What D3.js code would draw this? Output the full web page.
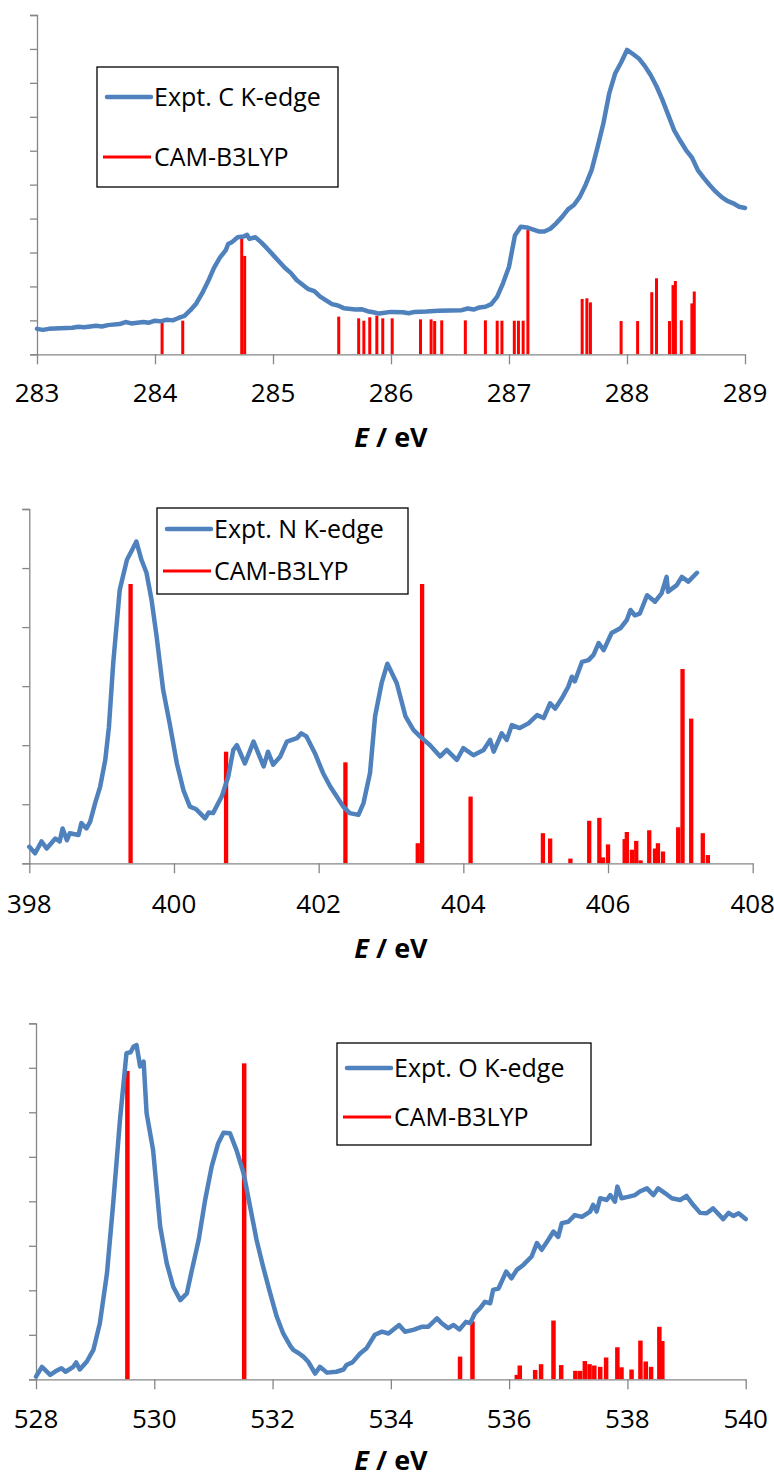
<!DOCTYPE html>
<html>
<head>
<meta charset="utf-8">
<style>
  body { margin: 0; background: #fff; }
  svg { display: block; font-family: "Open Sans", sans-serif; }
  .tick-label { font-size: 26px; fill: #000; }
  .legend text { font-size: 25px; fill: #000; }
  .title { font-size: 27px; font-weight: bold; fill: #000; }
</style>
</head>
<body>
<svg width="774" height="1478"></svg>
<script src="https://cdnjs.cloudflare.com/ajax/libs/d3/7.8.5/d3.min.js"></script>
<script>
// ---- C K-edge ----
let cExpt = [
  [283.0,0.75],[283.05,0.72],[283.1,0.75],[283.2,0.77],[283.3,0.78],[283.35,0.81],[283.4,0.80],[283.5,0.84],
  [283.55,0.82],[283.6,0.86],[283.7,0.89],[283.75,0.95],[283.8,0.91],[283.85,0.93],[283.9,0.95],[283.95,0.93],
  [284.0,0.99],[284.05,0.97],[284.1,1.02],[284.15,1.00],[284.2,1.07],[284.25,1.13],[284.3,1.30],
  [284.35,1.50],[284.4,1.80],[284.45,2.15],[284.5,2.55],[284.55,2.85],[284.6,3.07],[284.62,3.25],[284.65,3.30],
  [284.7,3.45],[284.75,3.47],[284.78,3.52],[284.8,3.40],[284.85,3.45],[284.9,3.30],[284.95,3.12],[285.0,2.93],
  [285.1,2.55],[285.15,2.40],[285.2,2.19],[285.3,1.92],[285.35,1.86],[285.4,1.70],[285.5,1.48],[285.55,1.44],
  [285.6,1.36],[285.7,1.32],[285.75,1.33],[285.8,1.27],[285.85,1.24],[285.9,1.20],[286.0,1.25],
  [286.1,1.24],[286.15,1.21],[286.2,1.25],[286.3,1.26],[286.4,1.28],[286.5,1.29],[286.6,1.30],[286.65,1.35],
  [286.7,1.32],[286.75,1.38],[286.8,1.40],[286.85,1.48],[286.9,1.70],[286.95,2.10],[287.0,2.58],[287.05,3.50],
  [287.1,3.76],[287.15,3.74],[287.2,3.68],[287.25,3.62],[287.3,3.62],[287.35,3.70],[287.4,3.86],[287.45,4.05],
  [287.5,4.27],[287.55,4.40],[287.6,4.64],[287.65,5.00],[287.7,5.43],[287.75,6.10],[287.8,6.81],[287.85,7.70],
  [287.9,8.28],[287.95,8.60],[288.0,8.97],[288.05,8.85],[288.1,8.72],[288.15,8.50],[288.2,8.23],[288.25,7.90],
  [288.3,7.50],[288.35,7.05],[288.4,6.60],[288.45,6.30],[288.5,6.02],[288.55,5.80],[288.6,5.43],[288.65,5.20],
  [288.7,4.99],[288.75,4.80],[288.8,4.64],[288.85,4.52],[288.9,4.45],[288.95,4.35],[289.0,4.31]
]
let cCalc = [
  [284.06,0.94],[284.235,0.99],[284.735,3.42],[284.76,2.90],[285.557,1.11],[285.726,1.06],[285.77,0.99],
  [285.82,1.09],[285.88,1.14],[285.93,1.06],[286.01,1.06],[286.25,1.03],[286.34,1.03],[286.37,0.98],
  [286.43,1.00],[286.63,1.00],[286.80,1.00],[286.90,0.99],[286.94,0.99],[287.045,0.99],[287.08,0.99],
  [287.12,0.99],[287.16,3.66],[287.62,1.63],[287.66,1.65],[287.69,1.53],[287.95,0.98],[288.09,0.98],
  [288.21,1.83],[288.25,2.24],[288.36,0.98],[288.39,2.04],[288.41,2.16],[288.46,1.00],[288.55,1.50],
  [288.57,1.85]
]
let cTicks = [283, 284, 285, 286, 287, 288, 289]

// ---- N K-edge ----
let nExpt = [
  [398.0,0.28],[398.08,0.17],[398.17,0.37],[398.24,0.25],[398.36,0.42],[398.42,0.37],[398.46,0.59],[398.52,0.39],
  [398.56,0.51],[398.68,0.48],[398.72,0.68],[398.79,0.59],[398.84,0.70],[398.91,1.02],[398.98,1.30],[399.05,1.75],
  [399.1,2.30],[399.16,3.39],[399.25,4.63],[399.35,5.14],[399.41,5.28],
  [399.48,5.45],[399.55,5.14],[399.62,4.92],[399.69,4.46],[399.76,3.84],[399.85,2.94],[399.94,2.37],[400.04,1.69],
  [400.13,1.24],[400.22,0.96],[400.3,0.92],[400.36,0.85],[400.43,0.76],[400.48,0.86],[400.54,0.85],[400.66,1.13],
  [400.75,1.47],[400.82,1.92],[400.87,2.00],[400.98,1.69],[401.1,2.06],[401.24,1.64],[401.3,1.89],[401.37,1.67],
  [401.47,1.81],[401.56,2.06],[401.7,2.12],[401.76,2.20],[401.83,2.15],[401.95,1.86],[402.06,1.53],[402.16,1.30],
  [402.25,1.13],[402.34,0.96],[402.43,0.85],[402.55,0.82],[402.62,1.02],[402.71,1.53],[402.78,2.49],[402.87,3.05],
  [402.95,3.38],[403.08,3.05],[403.2,2.49],[403.31,2.26],[403.4,2.15],[403.54,2.00],[403.68,1.81],[403.77,1.92],
  [403.91,1.75],[404.0,1.95],[404.14,1.83],[404.28,1.92],[404.37,2.09],[404.42,1.89],[404.53,2.20],[404.6,2.09],
  [404.67,2.34],[404.78,2.29],[404.9,2.37],[405.02,2.51],[405.11,2.46],[405.2,2.71],[405.27,2.62],[405.36,2.79],
  [405.45,2.99],[405.5,3.16],[405.54,3.08],[405.64,3.41],[405.73,3.44],[405.8,3.53],[405.87,3.73],[405.94,3.61],
  [406.05,3.90],[406.17,3.98],[406.26,4.12],[406.31,4.29],[406.37,4.20],[406.44,4.23],[406.54,4.54],[406.65,4.43],
  [406.74,4.57],[406.81,4.85],[406.83,4.60],[406.95,4.71],[407.02,4.85],[407.11,4.77],[407.23,4.92]
]
let nCalc = [
  [399.40,4.73],[400.72,1.89],[402.37,1.71],[403.37,0.34],[403.43,4.73],[404.10,1.13],[405.10,0.51],
  [405.20,0.42],[405.48,0.08],[405.74,0.72],[405.88,0.77],[405.93,0.10],[406.00,0.32],[406.23,0.41],
  [406.26,0.53],[406.33,0.23],[406.39,0.38],[406.45,0.05],[406.57,0.56],[406.65,0.25],[406.69,0.34],
  [406.76,0.20],[406.97,0.61],[407.03,3.29],[407.15,2.45],[407.31,0.51],[407.38,0.14]
]
let nTicks = [398, 400, 402, 404, 406, 408]

// ---- O K-edge ----
let oExpt = [
  [528.0,0.06],[528.1,0.28],[528.24,0.10],[528.33,0.18],[528.43,0.25],[528.5,0.17],[528.63,0.28],[528.68,0.38],
  [528.74,0.22],[528.86,0.40],[528.97,0.66],[529.08,1.26],[529.2,2.38],[529.31,4.03],[529.42,5.83],[529.53,7.33],
  [529.6,7.35],[529.65,7.48],[529.7,7.51],[529.76,7.03],[529.82,7.14],[529.87,5.98],[529.98,5.15],[530.1,3.43],
  [530.21,2.61],[530.32,2.08],[530.44,1.78],[530.55,1.93],[530.63,2.42],[530.75,3.13],[530.86,4.03],[530.97,4.78],
  [531.08,5.30],[531.17,5.54],[531.28,5.53],[531.39,5.15],[531.51,4.63],[531.62,3.88],[531.73,3.13],[531.84,2.53],
  [531.96,1.93],[532.07,1.41],[532.18,1.03],[532.3,0.75],[532.35,0.66],[532.45,0.58],[532.52,0.51],[532.6,0.40],
  [532.72,0.13],[532.8,0.28],[532.92,0.15],[533.08,0.17],[533.2,0.22],[533.25,0.32],[533.35,0.38],[533.48,0.58],
  [533.59,0.70],[533.73,1.00],[533.85,1.07],[533.96,1.03],[534.14,1.22],[534.24,1.07],[534.38,1.11],[534.52,1.18],
  [534.63,1.18],[534.78,1.37],[534.86,1.26],[534.97,1.15],[535.06,1.22],[535.16,1.12],[535.27,1.29],[535.34,1.26],
  [535.42,1.48],[535.51,1.60],[535.59,1.74],[535.68,1.71],[535.73,2.01],[535.82,2.04],[535.95,2.42],[536.04,2.27],
  [536.13,2.46],[536.24,2.57],[536.38,2.76],[536.47,3.06],[536.55,2.91],[536.66,3.13],[536.75,3.32],[536.83,3.20],
  [536.89,3.51],[537.0,3.54],[537.11,3.69],[537.23,3.65],[537.37,3.77],[537.42,3.92],[537.48,3.77],[537.54,4.07],
  [537.65,4.03],[537.71,4.14],[537.79,3.99],[537.83,4.33],[537.9,4.07],[538.01,4.10],[538.13,4.14],[538.21,4.22],
  [538.33,4.29],[538.44,4.14],[538.52,4.29],[538.64,4.18],[538.75,4.07],[538.89,4.03],[539.0,4.12],[539.11,3.92],
  [539.23,3.74],[539.34,3.73],[539.45,3.84],[539.62,3.60],[539.71,3.74],[539.79,3.67],[539.88,3.73],[540.0,3.60]
]
let oCalc = [
  [529.545,6.93],[531.52,7.10],[535.17,0.51],[535.38,1.30],[536.13,0.10],[536.18,0.31],[536.44,0.21],
  [536.54,0.34],[536.75,1.32],[536.88,0.32],[537.12,0.19],[537.20,0.19],[537.28,0.41],[537.36,0.34],
  [537.44,0.31],[537.54,0.28],[537.64,0.49],[537.83,0.72],[537.90,0.27],[538.07,0.22],[538.22,0.87],
  [538.31,0.40],[538.40,0.28],[538.54,1.18],[538.59,0.86]
]
let oTicks = [528, 530, 532, 534, 536, 538, 540]

let blue = "#4F81BD"
let red = "#FF0000"
let axisGray = "#868686"

let panels = [
  {expt: cExpt, calc: cCalc, ticks: cTicks, label: "Expt. C K-edge", yMax: 10,
   left: 37, right: 745, top: 15, bottom: 354.3, barW: 3, tickY: 402, titleY: 447,
   legend: {x: 97, y: 67, w: 241, h: 120, r1: 30, r2: 90}},
  {expt: nExpt, calc: nCalc, ticks: nTicks, label: "Expt. N K-edge", yMax: 6,
   left: 29.3, right: 752.7, top: 509, bottom: 863.3, barW: 4.3, tickY: 912.7, titleY: 958,
   legend: {x: 157, y: 508, w: 251, h: 86, r1: 21, r2: 63}},
  {expt: oExpt, calc: oCalc, ticks: oTicks, label: "Expt. O K-edge", yMax: 8,
   left: 36, right: 745.7, top: 1023.3, bottom: 1379.3, barW: 4.5, tickY: 1428.3, titleY: 1470,
   legend: {x: 337, y: 1043, w: 254, h: 102, r1: 25, r2: 74}}
]

let svg = d3.select("svg")

panels.forEach(p => {
  let x = d3.scaleLinear()
    .domain([p.ticks[0], p.ticks[p.ticks.length - 1]])
    .range([p.left, p.right])

  let y = d3.scaleLinear()
    .domain([0, p.yMax])
    .range([p.bottom, p.top])

  let g = svg.append("g")

  // y axis: ticks only, no labels
  g.append("g")
    .attr("transform", `translate(${p.left},0)`)
    .call(d3.axisLeft(y).ticks(p.yMax).tickSize(7).tickFormat(""))
    .call(a => a.selectAll("path, line").attr("stroke", axisGray).attr("stroke-width", 1.3))

  // sticks
  g.append("g")
    .selectAll("rect")
    .data(p.calc)
    .join("rect")
    .attr("x", d => x(d[0]) - p.barW / 2)
    .attr("y", d => y(d[1]))
    .attr("width", p.barW)
    .attr("height", d => y(0) - y(d[1]))
    .attr("fill", red)

  // experimental curve
  let line = d3.line()
    .x(d => x(d[0]))
    .y(d => y(d[1]))

  g.append("path")
    .datum(p.expt)
    .attr("d", line)
    .attr("fill", "none")
    .attr("stroke", blue)
    .attr("stroke-width", 4.5)
    .attr("stroke-linejoin", "round")
    .attr("stroke-linecap", "round")

  // x axis
  let xa = g.append("g")
    .attr("transform", `translate(0,${p.bottom})`)
    .call(d3.axisBottom(x).tickValues(p.ticks).tickSize(10).tickSizeOuter(0).tickFormat(""))
  xa.selectAll("path, line").attr("stroke", axisGray).attr("stroke-width", 1.3)

  g.selectAll(".tick-label")
    .data(p.ticks)
    .join("text")
    .attr("class", "tick-label")
    .attr("x", d => x(d))
    .attr("y", p.tickY)
    .attr("text-anchor", "middle")
    .text(d => d)

  // axis title
  let t = g.append("text")
    .attr("class", "title")
    .attr("x", 391)
    .attr("y", p.titleY)
    .attr("text-anchor", "middle")
  t.append("tspan").attr("font-style", "italic").text("E")
  t.append("tspan").text(" / eV")

  // legend
  let L = p.legend
  let lg = g.append("g").attr("class", "legend").attr("transform", `translate(${L.x},${L.y})`)
  lg.append("rect")
    .attr("width", L.w).attr("height", L.h)
    .attr("fill", "#fff").attr("stroke", "#000").attr("stroke-width", 1.3)
  lg.append("line")
    .attr("x1", 10).attr("x2", 54).attr("y1", L.r1).attr("y2", L.r1)
    .attr("stroke", blue).attr("stroke-width", 4.5).attr("stroke-linecap", "round")
  lg.append("line")
    .attr("x1", 6).attr("x2", 54).attr("y1", L.r2).attr("y2", L.r2)
    .attr("stroke", red).attr("stroke-width", 3)
  lg.append("text").attr("x", 57).attr("y", L.r1 + 9).text(p.label)
  lg.append("text").attr("x", 57).attr("y", L.r2 + 9).text("CAM-B3LYP")
})
</script>
</body>
</html>
